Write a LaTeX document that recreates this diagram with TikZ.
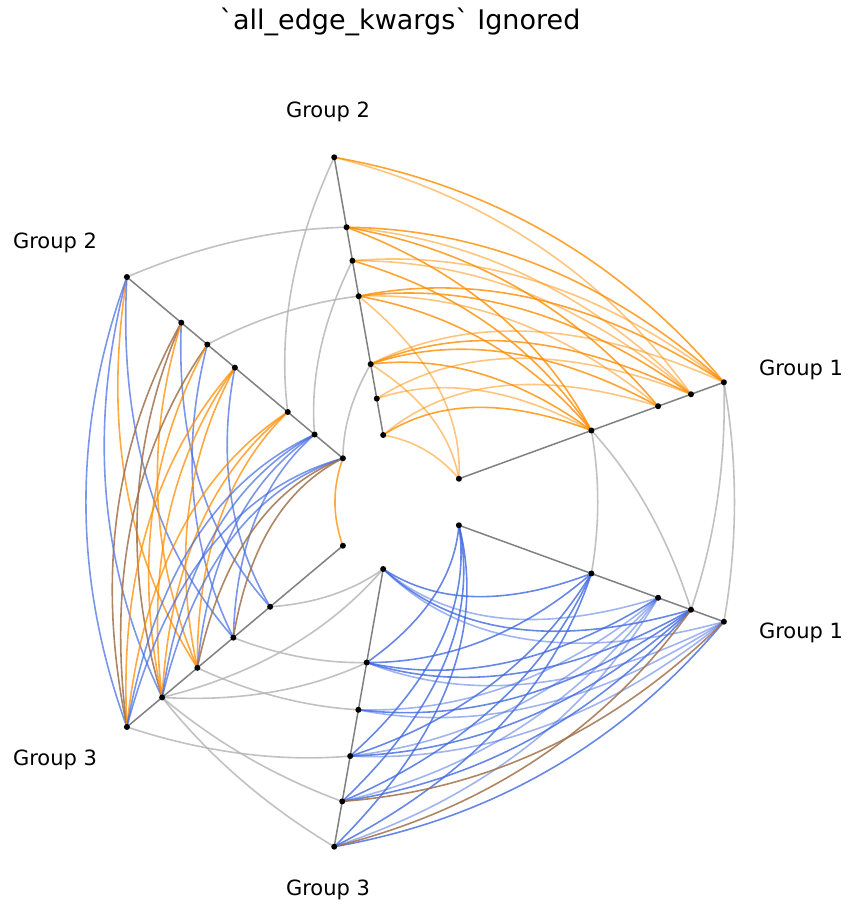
\documentclass[tikz,border=0pt]{standalone}
\usepackage{fontspec}
\setmainfont{DejaVu Sans}
\usetikzlibrary{calc}
\definecolor{or}{HTML}{FF8C00}
\definecolor{bl}{HTML}{4169E1}
\definecolor{br}{HTML}{A0704A}
\newcommand\hedge[5]{%
  \pgfmathsetmacro\am{(#2+#4)/2}\pgfmathsetmacro\rm{(#3+#5)/2}%
  \draw[#1] (#2:#3) .. controls ($(#2:#3)!0.6667!(\am:\rm)$) and ($(#4:#5)!0.6667!(\am:\rm)$) .. (#4:#5);}
\begin{document}
\begin{tikzpicture}[x=1pt,y=1pt,
  ax/.style={draw=black!50,line width=1.5pt},
  dot/.style={circle,fill=black,inner sep=0pt,minimum size=6pt},
  lab/.style={font=\fontsize{21}{25}\selectfont},
  og/.style={or,opacity=0.75,line width=1.6pt},
  bg/.style={bl,opacity=0.7,line width=1.6pt},
  bw/.style={br,opacity=0.85,line width=1.6pt},
  gg/.style={black!30,opacity=0.8,line width=1.6pt}]
\useasboundingbox (0,0) rectangle (855,-912);
\node[font=\fontsize{27}{32}\selectfont] (title) at (400,-22) {\textasciigrave all\_edge\_kwargs\textasciigrave{} Ignored};
\begin{scope}[shift={(395,-502)}]
% grey within-group
\foreach \a/\b in {209/209,350/350,350/315,209/315}{\hedge{gg}{20}{\a}{-20}{\b}}
\foreach \a/\b in {350/140,279/350,209/245,245/105,140/68}{\hedge{gg}{100}{\a}{140}{\b}}
\foreach \a/\b in {304/68,304/163,304/304,304/350,350/258,258/211,211/163,163/68}{\hedge{gg}{220}{\a}{260}{\b}}
% orange G1-G2
\foreach \a/\b/\o in {350/350/0.8,315/350/0.5,350/279/0.8,315/279/0.5,280/279/0.8,209/279/0.8,350/245/0.5,315/245/0.5,209/245/0.8,350/209/0.8,315/209/0.8,280/209/0.5,209/209/0.8,68/209/0.5,350/140/0.5,315/140/0.8,280/140/0.8,209/140/0.8,68/140/0.5,209/105/0.5,315/105/0.5,209/68/0.8,280/68/0.5,68/68/0.5}{\hedge{og,opacity=\o}{20}{\a}{100}{\b}}
% blue G3-G1
\foreach \a/\b/\o in {68/163/0.8,68/258/0.8,68/304/0.8,68/350/0.8,209/68/0.8,280/68/0.5,315/68/0.8,350/68/0.5,209/163/0.8,280/163/0.8,315/163/0.8,350/163/0.5,280/211/0.5,315/211/0.8,350/211/0.5,209/258/0.8,280/258/0.5,315/258/0.8,350/258/0.5,209/304/0.8,280/304/0.5,315/304/0.8,209/350/0.8,280/350/0.5,350/350/0.8}{\hedge{bg,opacity=\o}{340}{\a}{260}{\b}}
\hedge{bw}{340}{350}{260}{304}
\hedge{bw}{340}{315}{260}{350}
% left G2-G3
\foreach \a/\b/\s in {350/350/bg,350/304/bg,350/258/og,350/211/bg,279/350/bw,279/304/bw,279/163/bg,279/258/og,245/350/bw,245/211/bg,245/304/og,209/350/og,209/304/og,209/258/og,209/163/bg,140/304/og,140/258/og,140/350/og,105/304/bg,105/258/bg,105/211/bg,105/350/bg,68/304/bg,68/258/bw,68/211/bw,68/68/og,68/350/bg}{\hedge{\s}{140}{\a}{220}{\b}}
% axes
\foreach \ang in {20,-20,100,140,220,260}{\draw[ax] (\ang:68) -- (\ang:350);}
\foreach \r [count=\i] in {68,209,280,315,350}{\node[dot] (au\i) at (20:\r) {}; \node[dot] (al\i) at (-20:\r) {};}
\foreach \r [count=\i] in {68,105,140,209,245,279,350}{\node[dot] (bt\i) at (100:\r) {}; \node[dot] (bl\i) at (140:\r) {};}
\foreach \r [count=\i] in {68,163,211,258,304,350}{\node[dot] (cl\i) at (220:\r) {}; \node[dot] (cb\i) at (260:\r) {};}
\end{scope}
\node[lab] (l1) at (801,-370) {Group 1};
\node[lab] (l2) at (801,-633) {Group 1};
\node[lab] (l3) at (328,-112) {Group 2};
\node[lab] (l4) at (55,-243) {Group 2};
\node[lab] (l5) at (55,-760) {Group 3};
\node[lab] (l6) at (328,-890) {Group 3};
\end{tikzpicture}
\end{document}
